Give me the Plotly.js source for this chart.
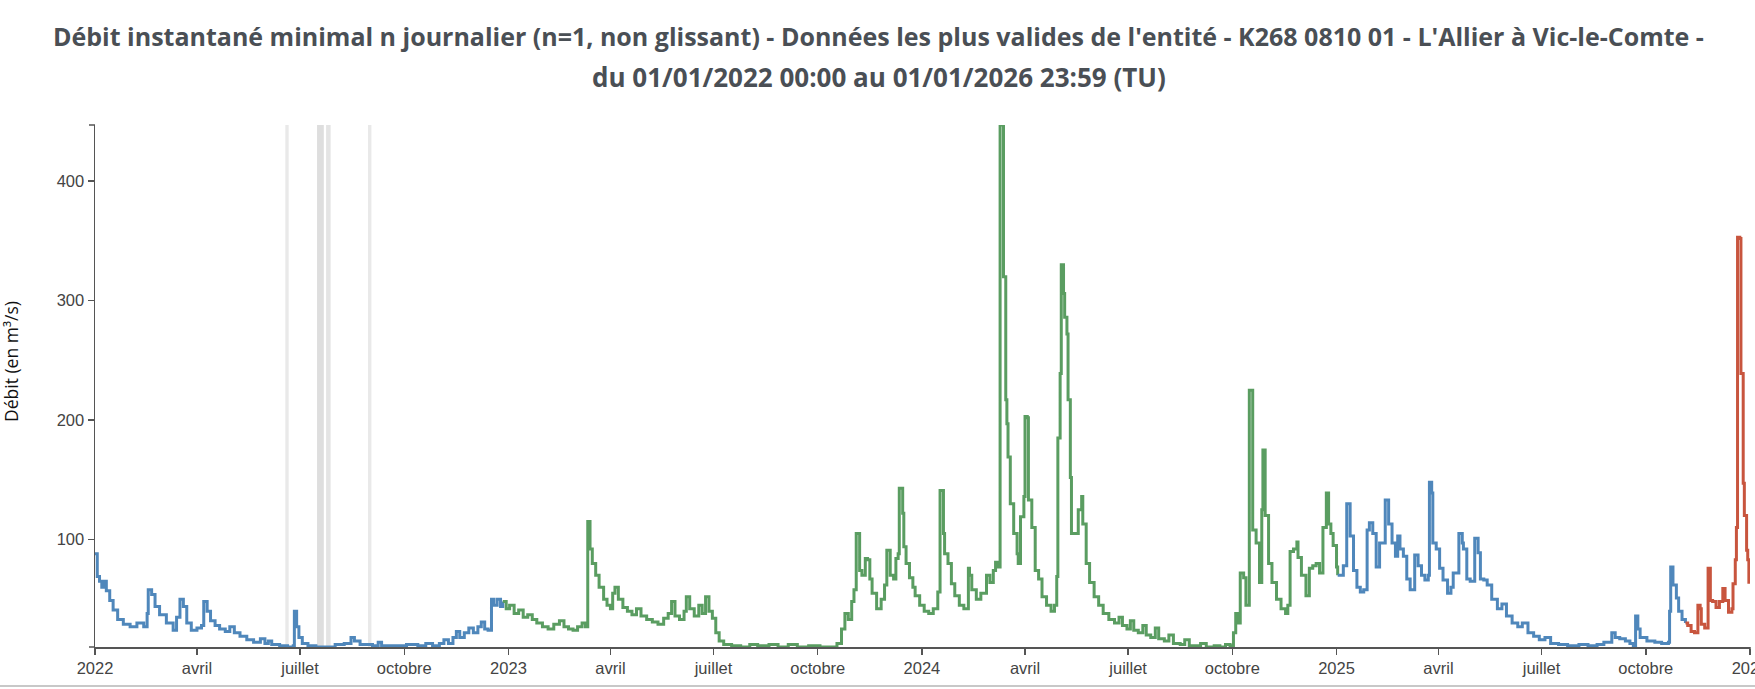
<!DOCTYPE html>
<html>
<head>
<meta charset="utf-8">
<script src="https://cdn.plot.ly/plotly-3.0.1.min.js"></script>
<style>
html,body{margin:0;padding:0;background:#fff;}
#chart{width:1755px;height:689px;}
</style>
</head>
<body>
<div id="chart"></div>
<script>
// ---- Data ----
const blue2022Dates = ['2022-01-01','2022-01-03','2022-01-05','2022-01-07','2022-01-09','2022-01-11','2022-01-14','2022-01-17','2022-01-21','2022-01-26','2022-02-01','2022-02-07','2022-02-13','2022-02-16','2022-02-17','2022-02-20','2022-02-23','2022-02-27','2022-03-05','2022-03-11','2022-03-14','2022-03-17','2022-03-20','2022-03-23','2022-03-27','2022-04-01','2022-04-05','2022-04-07','2022-04-10','2022-04-13','2022-04-17','2022-04-21','2022-04-26','2022-04-30','2022-05-04','2022-05-09','2022-05-15','2022-05-21','2022-05-27','2022-05-31','2022-06-03','2022-06-06','2022-06-13','2022-06-20','2022-06-25','2022-06-26','2022-06-28','2022-06-30','2022-07-03','2022-07-08','2022-07-15','2022-07-25','2022-08-01','2022-08-09','2022-08-15','2022-08-18','2022-08-23','2022-09-03','2022-09-08','2022-09-11','2022-09-23','2022-10-03','2022-10-13','2022-10-20','2022-10-26','2022-11-01','2022-11-05','2022-11-09','2022-11-13','2022-11-16','2022-11-19','2022-11-23','2022-11-27','2022-12-01','2022-12-05','2022-12-08','2022-12-11','2022-12-14','2022-12-17','2022-12-19','2022-12-22','2022-12-25','2022-12-27'];
const blue2022Values = [88,69,65,60,65,57,49,41,33,29,27,30,27,38,58,54,44,37,30,24,35,50,44,30,24,26,28,48,40,32,28,25,23,27,22,19,16,14,17,13,15,12,11,10,11,40,27,18,13,11,10,10,12,13,18,15,12,11,14,11,11,12,11,13,11,13,16,13,18,23,18,22,26,22,27,31,25,24,50,45,50,44,48];

const greenDates = ['2022-12-27','2022-12-30','2023-01-02','2023-01-06','2023-01-10','2023-01-14','2023-01-18','2023-01-22','2023-01-26','2023-01-31','2023-02-05','2023-02-10','2023-02-15','2023-02-19','2023-02-23','2023-02-27','2023-03-03','2023-03-07','2023-03-10','2023-03-12','2023-03-14','2023-03-16','2023-03-19','2023-03-22','2023-03-26','2023-03-29','2023-04-01','2023-04-03','2023-04-05','2023-04-08','2023-04-12','2023-04-16','2023-04-20','2023-04-24','2023-04-28','2023-05-03','2023-05-08','2023-05-13','2023-05-18','2023-05-22','2023-05-25','2023-05-28','2023-06-01','2023-06-05','2023-06-07','2023-06-10','2023-06-14','2023-06-18','2023-06-21','2023-06-24','2023-06-27','2023-06-30','2023-07-03','2023-07-06','2023-07-10','2023-07-17','2023-07-25','2023-08-02','2023-08-09','2023-08-19','2023-08-27','2023-09-05','2023-09-13','2023-09-23','2023-10-03','2023-10-13','2023-10-18','2023-10-22','2023-10-25','2023-10-28','2023-10-31','2023-11-02','2023-11-04','2023-11-07','2023-11-09','2023-11-12','2023-11-14','2023-11-16','2023-11-18','2023-11-22','2023-11-26','2023-11-29','2023-12-01','2023-12-04','2023-12-07','2023-12-09','2023-12-11','2023-12-12','2023-12-14','2023-12-15','2023-12-16','2023-12-18','2023-12-21','2023-12-24','2023-12-26','2023-12-30','2024-01-03','2024-01-07','2024-01-11','2024-01-15','2024-01-17','2024-01-20','2024-01-21','2024-01-24','2024-01-27','2024-01-30','2024-02-03','2024-02-07','2024-02-11','2024-02-12','2024-02-14','2024-02-18','2024-02-22','2024-02-27','2024-03-01','2024-03-04','2024-03-06','2024-03-08','2024-03-10','2024-03-13','2024-03-15','2024-03-16','2024-03-17','2024-03-19','2024-03-22','2024-03-25','2024-03-26','2024-03-28','2024-03-31','2024-04-01','2024-04-03','2024-04-04','2024-04-07','2024-04-10','2024-04-13','2024-04-16','2024-04-20','2024-04-24','2024-04-27','2024-04-29','2024-04-30','2024-05-02','2024-05-03','2024-05-05','2024-05-06','2024-05-08','2024-05-09','2024-05-11','2024-05-12','2024-05-15','2024-05-18','2024-05-21','2024-05-22','2024-05-25','2024-05-28','2024-06-01','2024-06-05','2024-06-09','2024-06-14','2024-06-19','2024-06-23','2024-06-26','2024-06-30','2024-07-03','2024-07-06','2024-07-10','2024-07-14','2024-07-17','2024-07-21','2024-07-25','2024-07-28','2024-08-02','2024-08-06','2024-08-10','2024-08-16','2024-08-20','2024-08-24','2024-08-30','2024-09-03','2024-09-08','2024-09-15','2024-09-20','2024-09-25','2024-09-29','2024-10-02','2024-10-04','2024-10-06','2024-10-08','2024-10-11','2024-10-13','2024-10-16','2024-10-19','2024-10-22','2024-10-25','2024-10-27','2024-10-28','2024-10-30','2024-11-02','2024-11-05','2024-11-09','2024-11-13','2024-11-17','2024-11-19','2024-11-21','2024-11-24','2024-11-27','2024-11-28','2024-12-01','2024-12-05','2024-12-08','2024-12-11','2024-12-14','2024-12-17','2024-12-20','2024-12-23','2024-12-25','2024-12-27','2024-12-29','2025-01-01','2025-01-02'];
const greenValues = [48,42,45,38,41,35,37,33,30,27,25,29,32,27,25,24,27,30,27,115,92,80,70,60,50,45,42,55,60,50,43,40,37,42,36,33,31,29,34,38,48,36,33,40,52,42,36,45,38,52,40,34,22,15,12,11,10,12,11,12,10,12,10,11,10,10,13,25,38,33,48,58,105,74,70,84,83,67,55,42,50,62,91,70,67,84,88,143,143,122,94,80,68,60,53,45,40,38,42,56,141,105,88,80,63,53,45,42,76,70,58,50,55,70,64,74,81,77,447,320,217,197,169,130,105,88,80,119,136,203,202,133,110,74,67,52,45,40,45,69,185,239,330,306,286,272,217,152,105,105,125,136,113,80,64,52,45,38,33,30,35,28,25,32,24,22,28,20,18,26,17,15,20,13,12,16,11,11,13,10,11,10,12,11,22,38,30,72,68,45,225,108,97,64,125,175,120,80,64,50,42,38,45,90,92,98,85,70,53,76,78,80,72,110,139,113,105,95,77,70];

const blue2025Dates = ['2025-01-02','2025-01-07','2025-01-10','2025-01-13','2025-01-16','2025-01-19','2025-01-22','2025-01-25','2025-01-28','2025-01-30','2025-02-02','2025-02-05','2025-02-08','2025-02-13','2025-02-16','2025-02-19','2025-02-22','2025-02-24','2025-02-26','2025-03-01','2025-03-04','2025-03-07','2025-03-11','2025-03-14','2025-03-17','2025-03-20','2025-03-23','2025-03-24','2025-03-26','2025-03-27','2025-03-30','2025-04-02','2025-04-05','2025-04-09','2025-04-12','2025-04-14','2025-04-19','2025-04-22','2025-04-23','2025-04-26','2025-04-29','2025-05-03','2025-05-06','2025-05-08','2025-05-11','2025-05-14','2025-05-18','2025-05-23','2025-05-27','2025-05-31','2025-06-05','2025-06-10','2025-06-14','2025-06-19','2025-06-24','2025-06-29','2025-07-04','2025-07-09','2025-07-16','2025-07-24','2025-08-03','2025-08-11','2025-08-19','2025-08-25','2025-09-01','2025-09-04','2025-09-08','2025-09-13','2025-09-17','2025-09-20','2025-09-22','2025-09-24','2025-09-26','2025-10-02','2025-10-09','2025-10-15','2025-10-21','2025-10-22','2025-10-23','2025-10-25','2025-10-28','2025-10-30','2025-11-02','2025-11-05'];
const blue2025Values = [70,78,130,103,74,60,56,58,108,114,105,77,97,133,113,97,86,103,92,86,67,58,87,78,70,66,70,148,139,97,92,76,66,55,60,72,105,97,92,67,65,101,89,67,66,62,50,42,46,36,30,27,30,22,19,16,18,13,12,11,12,11,12,14,22,18,17,15,13,11,36,25,18,15,14,13,14,40,77,62,51,40,33,30];

const redDates = ['2025-11-05','2025-11-07','2025-11-10','2025-11-13','2025-11-15','2025-11-16','2025-11-18','2025-11-19','2025-11-22','2025-11-25','2025-11-27','2025-11-29','2025-12-02','2025-12-05','2025-12-08','2025-12-10','2025-12-13','2025-12-16','2025-12-17','2025-12-19','2025-12-20','2025-12-21','2025-12-23','2025-12-24','2025-12-26','2025-12-27','2025-12-29','2025-12-30','2025-12-31'];
const redValues = [30,28,23,22,22,45,42,29,26,76,49,48,43,48,59,49,39,42,63,83,110,353,352,239,147,120,91,83,63];

// periods without data (grey bands)
const gapStarts = ['2022-06-18','2022-07-16','2022-07-24','2022-08-30'];
const gapEnds   = ['2022-06-21','2022-07-22','2022-07-28','2022-09-02'];
const gapShades = ['rgba(215,215,215,0.55)','rgba(205,205,205,0.65)','rgba(210,210,210,0.6)','rgba(215,215,215,0.55)'];

const tickDates = ['2022-01-01','2022-04-01','2022-07-01','2022-10-01','2023-01-01','2023-04-01','2023-07-01','2023-10-01','2024-01-01','2024-04-01','2024-07-01','2024-10-01','2025-01-01','2025-04-01','2025-07-01','2025-10-01','2026-01-01'];
const tickLabels = ['2022','avril','juillet','octobre','2023','avril','juillet','octobre','2024','avril','juillet','octobre','2025','avril','juillet','octobre','2026'];
const yTicks = [100,200,300,400];

const titleLine1 = "Débit instantané minimal n journalier (n=1, non glissant) - Données les plus valides de l'entité - K268 0810 01 - L'Allier à Vic-le-Comte -";
const titleLine2 = "du 01/01/2022 00:00 au 01/01/2026 23:59 (TU)";
const yTitle = "Débit (en m³/s)";

// ---- Chart ----
const BLUE = '#4f87bb', GREEN = '#5a9d61', RED = '#c8553e';
function series(x, y, color) {
  return {x: x, y: y, type: 'scatter', mode: 'lines',
          line: {color: color, width: 3, shape: 'hv'}, hoverinfo: 'skip'};
}
const traces = [
  series(blue2022Dates, blue2022Values, BLUE),
  series(greenDates, greenValues, GREEN),
  series(blue2025Dates, blue2025Values, BLUE),
  series(redDates, redValues, RED)
];

const shapes = gapStarts.map((s, i) => ({
  type: 'rect', xref: 'x', yref: 'paper', x0: s, x1: gapEnds[i], y0: 0, y1: 1,
  fillcolor: gapShades[i], line: {width: 0}, layer: 'below'
}));
const AX = '#555';
// d3-like outer ticks
shapes.push({type:'line', xref:'paper', yref:'paper', xsizemode:'pixel', xanchor:0, x0:-6, x1:0, y0:1, y1:1, line:{color:AX, width:1.5}});
shapes.push({type:'line', xref:'paper', yref:'paper', xsizemode:'pixel', xanchor:0, x0:-6, x1:0, y0:0, y1:0, line:{color:AX, width:1.5}});
shapes.push({type:'line', xref:'paper', yref:'paper', ysizemode:'pixel', yanchor:0, x0:1, x1:1, y0:0, y1:-6, line:{color:AX, width:1.5}});
// bottom separator line
shapes.push({type:'line', xref:'paper', yref:'paper', x0:-0.06, x1:1.01, y0:-0.0747, y1:-0.0747, line:{color:'#c8c8c8', width:2}});

const TICKFONT = {family: 'Liberation Sans, Arial, sans-serif', size: 16.5, color: '#444'};
const layout = {
  width: 1755, height: 689,
  margin: {l: 95, r: 5, t: 125, b: 42},
  paper_bgcolor: '#fff', plot_bgcolor: '#fff',
  showlegend: false,
  xaxis: {
    type: 'date', range: ['2022-01-01', '2026-01-01'],
    tickmode: 'array', tickvals: tickDates, ticktext: tickLabels,
    ticks: 'outside', ticklen: 6, tickwidth: 1.5, tickcolor: AX,
    showline: true, linecolor: AX, linewidth: 1.5,
    showgrid: false, zeroline: false, ticklabeloverflow: 'allow',
    tickfont: TICKFONT
  },
  yaxis: {
    range: [10, 447],
    tickmode: 'array', tickvals: yTicks,
    ticks: 'outside', ticklen: 6, tickwidth: 1.5, tickcolor: AX,
    showline: true, linecolor: AX, linewidth: 1.5,
    showgrid: false, zeroline: false,
    tickfont: TICKFONT
  },
  shapes: shapes,
  annotations: [
    {text: '<b>' + titleLine1 + '</b>', xref: 'paper', yref: 'paper', x: 0.4735, y: 1.1705,
     xanchor: 'center', yanchor: 'middle', showarrow: false,
     font: {family: 'Open Sans, sans-serif', size: 25, color: '#4a4f55'}},
    {text: '<b>' + titleLine2 + '</b>', xref: 'paper', yref: 'paper', x: 0.4735, y: 1.092,
     xanchor: 'center', yanchor: 'middle', showarrow: false,
     font: {family: 'Open Sans, sans-serif', size: 26, color: '#4a4f55'}},
    {text: yTitle, xref: 'paper', yref: 'paper', x: 0, y: 0.546, xshift: -84,
     xanchor: 'center', yanchor: 'middle', textangle: -90, showarrow: false,
     font: {family: 'Open Sans, sans-serif', size: 17.5, color: '#111'}}
  ]
};

Plotly.newPlot('chart', traces, layout, {displayModeBar: false, staticPlot: true});
</script>
</body>
</html>
